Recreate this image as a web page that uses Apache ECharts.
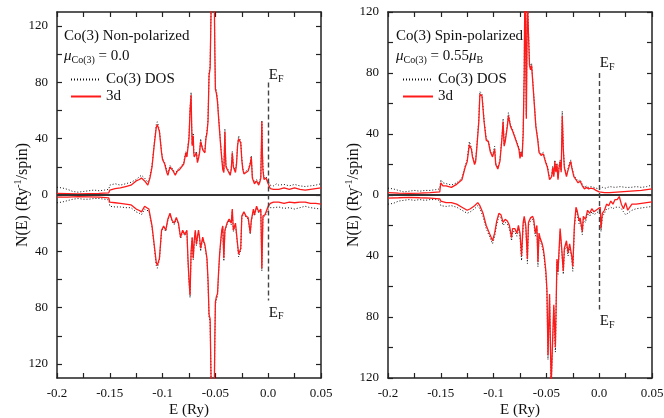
<!DOCTYPE html>
<html>
<head>
    <meta charset="utf-8"/>
    <script src="https://cdn.jsdelivr.net/npm/echarts@6.0.0/dist/echarts.min.js"></script>
    <style>
        html, body { margin: 0; padding: 0; background: #fff; }
    </style>
</head>
<body>
<div id="main" style="width: 664px;height:418px;"></div>
<script type="text/javascript">
    // energy range (Ry) and y limits of the two panels
    var eMin = -0.2, eMax = 0.05, eStep = 0.025;
    var npLimit = 130, spLimit = 120;
    var yTickValues = [-120, -100, -80, -60, -40, -20, 0, 20, 40, 60, 80, 100, 120];
    var yLabelValues = [-120, -80, -40, 0, 40, 80, 120];
    var efTop = 80, efBottom = -75;

    // Non-polarized, spin up: [E, N(E)]
    var npUp3d = [[-0.2,1.2],[-0.19,1.0],[-0.18,0.8],[-0.17,1.0],[-0.16,1.2],[-0.151,1.5],[-0.15,3.5],[-0.145,4.5],[-0.14,5],[-0.135,6],[-0.13,7],[-0.125,10],[-0.122,11],[-0.12,12],[-0.117,10],[-0.114,7],[-0.112,12],[-0.11,20],[-0.108,35],[-0.106,48],[-0.105,50],[-0.103,45],[-0.101,30],[-0.1,25],[-0.098,22],[-0.096,16],[-0.095,14],[-0.093,20],[-0.092,21],[-0.09,17],[-0.088,14],[-0.086,17],[-0.084,18],[-0.082,20],[-0.08,22],[-0.078,30],[-0.077,27],[-0.075,40],[-0.074,60],[-0.073,71],[-0.0725,50],[-0.072,35],[-0.071,42],[-0.0705,30],[-0.07,27],[-0.068,30],[-0.067,23],[-0.066,26],[-0.065,30],[-0.064,38],[-0.063,35],[-0.062,32],[-0.06,30],[-0.059,40],[-0.058,44],[-0.057,52],[-0.056,85],[-0.055,90],[-0.054,135],[-0.052,140],[-0.051,135],[-0.0505,100],[-0.05,75],[-0.049,72],[-0.048,66],[-0.047,55],[-0.046,45],[-0.045,35],[-0.044,26],[-0.043,18],[-0.042,16],[-0.041,45],[-0.0405,30],[-0.04,20],[-0.038,17],[-0.036,14],[-0.035,18],[-0.034,30],[-0.033,20],[-0.032,18],[-0.031,16],[-0.03,22],[-0.029,35],[-0.028,40],[-0.027,39],[-0.026,37],[-0.025,25],[-0.024,18],[-0.023,15],[-0.021,16],[-0.019,17],[-0.018,18],[-0.017,22],[-0.016,27],[-0.015,12],[-0.014,10],[-0.013,8],[-0.011,10],[-0.009,7],[-0.008,9],[-0.007,12],[-0.006,52],[-0.0055,30],[-0.005,18],[-0.004,11],[-0.002,12],[-0.001,10],[0,8],[0.002,4.5],[0.005,4],[0.01,4],[0.015,5],[0.02,4],[0.025,5],[0.03,4],[0.035,3.5],[0.04,4],[0.045,4.5],[0.05,5]];
    var npUpDos = [[-0.2,5.5],[-0.195,5],[-0.19,4],[-0.185,2.5],[-0.18,2],[-0.175,2.5],[-0.17,3],[-0.165,3.5],[-0.16,3],[-0.155,3.5],[-0.151,4],[-0.15,7],[-0.145,8],[-0.14,7],[-0.135,8],[-0.13,9],[-0.125,11],[-0.122,13],[-0.12,14],[-0.117,12],[-0.114,9],[-0.112,13],[-0.11,21],[-0.108,36],[-0.106,50],[-0.105,52],[-0.103,46],[-0.101,31],[-0.1,26],[-0.098,23],[-0.096,17],[-0.095,15],[-0.093,21],[-0.092,22],[-0.09,18],[-0.088,15],[-0.086,18],[-0.084,19],[-0.082,21],[-0.08,23],[-0.078,31],[-0.077,28],[-0.075,42],[-0.074,62],[-0.073,73],[-0.0725,51],[-0.072,36],[-0.071,44],[-0.0705,31],[-0.07,28],[-0.068,31],[-0.067,24],[-0.066,27],[-0.065,31],[-0.064,40],[-0.063,36],[-0.062,33],[-0.06,31],[-0.059,41],[-0.058,45],[-0.057,54],[-0.056,87],[-0.055,92],[-0.054,138],[-0.052,142],[-0.051,138],[-0.0505,102],[-0.05,77],[-0.049,74],[-0.048,68],[-0.047,56],[-0.046,46],[-0.045,36],[-0.044,27],[-0.043,19],[-0.042,17],[-0.041,47],[-0.0405,31],[-0.04,21],[-0.038,18],[-0.036,15],[-0.035,19],[-0.034,31],[-0.033,21],[-0.032,19],[-0.031,17],[-0.03,23],[-0.029,36],[-0.028,42],[-0.027,40],[-0.026,38],[-0.025,26],[-0.024,19],[-0.023,16],[-0.021,17],[-0.019,18],[-0.018,19],[-0.017,23],[-0.016,28],[-0.015,13],[-0.014,11],[-0.013,9],[-0.011,11],[-0.009,8],[-0.008,10],[-0.007,13],[-0.006,53],[-0.0055,31],[-0.005,19],[-0.004,12],[-0.002,13],[-0.001,11],[0,10],[0.002,7],[0.005,6.5],[0.008,8],[0.01,7],[0.015,7.5],[0.02,6.5],[0.025,7.5],[0.03,6.5],[0.035,6],[0.04,6.5],[0.045,7],[0.05,8]];

    // Non-polarized, spin down (magnitudes)
    var npDn3d = [[-0.2,1.5],[-0.19,1.5],[-0.18,1.2],[-0.17,1.3],[-0.16,1.5],[-0.151,2],[-0.15,5],[-0.145,5.5],[-0.14,6],[-0.135,6.5],[-0.13,7],[-0.125,10],[-0.122,11],[-0.12,12],[-0.117,8],[-0.115,9],[-0.113,10],[-0.11,22],[-0.108,35],[-0.106,48],[-0.105,50],[-0.103,45],[-0.101,25],[-0.099,22],[-0.097,25],[-0.095,17],[-0.093,13],[-0.091,18],[-0.089,20],[-0.087,16],[-0.085,20],[-0.083,30],[-0.081,25],[-0.079,28],[-0.077,25],[-0.076,45],[-0.075,60],[-0.074,71],[-0.073,40],[-0.072,30],[-0.071,45],[-0.07,32],[-0.069,25],[-0.068,35],[-0.066,25],[-0.065,30],[-0.064,38],[-0.062,30],[-0.061,33],[-0.06,35],[-0.058,45],[-0.057,60],[-0.056,85],[-0.055,88],[-0.054,135],[-0.052,140],[-0.051,135],[-0.0505,100],[-0.05,76],[-0.049,72],[-0.048,70],[-0.047,55],[-0.046,42],[-0.045,33],[-0.044,25],[-0.043,22],[-0.042,45],[-0.041,25],[-0.039,20],[-0.037,17],[-0.035,20],[-0.034,10],[-0.033,25],[-0.031,20],[-0.029,35],[-0.028,42],[-0.026,38],[-0.025,15],[-0.023,12],[-0.021,15],[-0.019,16],[-0.017,27],[-0.016,18],[-0.014,10],[-0.013,14],[-0.011,8],[-0.009,12],[-0.007,10],[-0.006,52],[-0.005,15],[-0.003,14],[-0.001,10],[0,8],[0.002,6],[0.005,5],[0.01,5],[0.015,6],[0.02,5],[0.025,5.5],[0.03,5],[0.035,5],[0.04,6],[0.045,6],[0.05,6.5]];
    var npDnDos = [[-0.2,5.5],[-0.195,5],[-0.19,4],[-0.185,3],[-0.18,2.5],[-0.175,3],[-0.17,3],[-0.165,2.5],[-0.16,2.5],[-0.155,3],[-0.151,3.5],[-0.15,8],[-0.145,8.5],[-0.14,8.5],[-0.135,9],[-0.13,9],[-0.125,12],[-0.122,13],[-0.12,14],[-0.117,10],[-0.115,11],[-0.113,11],[-0.11,23],[-0.108,36],[-0.106,50],[-0.105,52],[-0.103,46],[-0.101,26],[-0.099,23],[-0.097,26],[-0.095,18],[-0.093,14],[-0.091,19],[-0.089,21],[-0.087,17],[-0.085,21],[-0.083,31],[-0.081,26],[-0.079,29],[-0.077,26],[-0.076,47],[-0.075,62],[-0.074,73],[-0.073,41],[-0.072,31],[-0.071,46],[-0.07,33],[-0.069,26],[-0.068,36],[-0.066,26],[-0.065,31],[-0.064,40],[-0.062,31],[-0.061,34],[-0.06,36],[-0.058,46],[-0.057,62],[-0.056,87],[-0.055,90],[-0.054,138],[-0.052,142],[-0.051,138],[-0.0505,102],[-0.05,78],[-0.049,74],[-0.048,72],[-0.047,56],[-0.046,43],[-0.045,34],[-0.044,26],[-0.043,23],[-0.042,47],[-0.041,26],[-0.039,21],[-0.037,18],[-0.035,21],[-0.034,11],[-0.033,26],[-0.031,21],[-0.029,36],[-0.028,44],[-0.026,39],[-0.025,16],[-0.023,13],[-0.021,16],[-0.019,17],[-0.017,28],[-0.016,19],[-0.014,11],[-0.013,15],[-0.011,9],[-0.009,13],[-0.007,11],[-0.006,54],[-0.005,16],[-0.003,15],[-0.001,12],[0,10],[0.002,9],[0.005,9],[0.01,8.5],[0.015,9.5],[0.02,9],[0.025,10],[0.03,9],[0.035,8],[0.04,9],[0.045,9.5],[0.05,10]];

    // Spin-polarized, spin up
    var spUp3d = [[-0.2,1.5],[-0.19,1.2],[-0.18,1.0],[-0.17,1.2],[-0.16,1.5],[-0.151,2],[-0.15,8],[-0.148,6],[-0.145,6],[-0.14,5],[-0.135,7],[-0.13,10],[-0.127,18],[-0.125,22],[-0.123,33],[-0.121,30],[-0.12,25],[-0.118,20],[-0.117,22],[-0.116,30],[-0.114,48],[-0.113,66],[-0.111,65],[-0.109,48],[-0.107,36],[-0.105,35],[-0.103,28],[-0.101,25],[-0.099,30],[-0.098,20],[-0.096,17],[-0.094,22],[-0.092,38],[-0.091,48],[-0.09,32],[-0.089,35],[-0.087,45],[-0.086,52],[-0.084,45],[-0.082,42],[-0.08,38],[-0.078,34],[-0.077,33],[-0.076,30],[-0.075,24],[-0.074,28],[-0.073,25],[-0.072,40],[-0.071,80],[-0.0705,125],[-0.07,130],[-0.069,50],[-0.068,130],[-0.067,106],[-0.066,85],[-0.065,82],[-0.064,85],[-0.063,75],[-0.061,55],[-0.06,45],[-0.058,35],[-0.057,28],[-0.055,26],[-0.053,27],[-0.051,22],[-0.049,18],[-0.047,10],[-0.045,12],[-0.044,18],[-0.043,12],[-0.042,22],[-0.041,15],[-0.04,20],[-0.039,10],[-0.038,18],[-0.037,22],[-0.036,15],[-0.035,52],[-0.034,30],[-0.033,18],[-0.031,12],[-0.03,15],[-0.028,20],[-0.027,22],[-0.026,18],[-0.024,12],[-0.022,10],[-0.02,8],[-0.018,9],[-0.016,6],[-0.014,4],[-0.012,5],[-0.01,4],[-0.008,4.5],[-0.005,4],[-0.003,3],[0,2],[0.005,1.5],[0.01,1.5],[0.02,2],[0.03,2.5],[0.04,3],[0.045,3.5],[0.05,4]];
    var spUpDos = [[-0.2,4.5],[-0.195,4],[-0.19,3],[-0.185,2],[-0.18,2.5],[-0.175,3],[-0.17,2.5],[-0.165,3],[-0.16,3],[-0.155,3.5],[-0.151,4],[-0.15,10],[-0.148,8],[-0.145,7.5],[-0.14,6.5],[-0.135,8],[-0.13,11],[-0.127,19],[-0.125,23],[-0.123,35],[-0.121,31],[-0.12,26],[-0.118,21],[-0.117,23],[-0.116,31],[-0.114,50],[-0.113,68],[-0.111,66],[-0.109,49],[-0.107,37],[-0.105,36],[-0.103,29],[-0.101,26],[-0.099,32],[-0.098,21],[-0.096,18],[-0.094,23],[-0.092,39],[-0.091,50],[-0.09,33],[-0.089,36],[-0.087,46],[-0.086,54],[-0.084,46],[-0.082,43],[-0.08,39],[-0.078,35],[-0.077,34],[-0.076,31],[-0.075,25],[-0.074,29],[-0.073,26],[-0.072,41],[-0.071,82],[-0.0705,128],[-0.07,132],[-0.069,52],[-0.068,132],[-0.067,108],[-0.066,87],[-0.065,84],[-0.064,86],[-0.063,76],[-0.061,56],[-0.06,46],[-0.058,36],[-0.057,29],[-0.055,27],[-0.053,28],[-0.051,23],[-0.049,19],[-0.047,11],[-0.045,13],[-0.044,19],[-0.043,13],[-0.042,23],[-0.041,16],[-0.04,21],[-0.039,11],[-0.038,19],[-0.037,23],[-0.036,16],[-0.035,55],[-0.034,31],[-0.033,19],[-0.031,13],[-0.03,16],[-0.028,21],[-0.027,23],[-0.026,19],[-0.024,13],[-0.022,11],[-0.02,9],[-0.018,10],[-0.016,7],[-0.014,5],[-0.012,6],[-0.01,5],[-0.008,5.5],[-0.005,5],[-0.003,4.5],[0,4],[0.003,5],[0.006,4.5],[0.01,5.5],[0.015,5],[0.02,5.5],[0.025,5],[0.03,5],[0.035,5.5],[0.04,5],[0.045,5.5],[0.05,6.5]];

    // Spin-polarized, spin down (magnitudes)
    var spDn3d = [[-0.2,2],[-0.19,1.8],[-0.18,1.5],[-0.17,1.8],[-0.16,2],[-0.151,2.5],[-0.15,4],[-0.145,5],[-0.14,5],[-0.135,6],[-0.13,8],[-0.125,10],[-0.122,9],[-0.118,7],[-0.115,5],[-0.113,7],[-0.11,12],[-0.107,20],[-0.104,25],[-0.101,30],[-0.099,25],[-0.097,17],[-0.095,12],[-0.093,13],[-0.091,18],[-0.089,16],[-0.087,17],[-0.085,20],[-0.083,28],[-0.082,22],[-0.08,22],[-0.078,25],[-0.0765,20],[-0.075,25],[-0.0735,40],[-0.072,18],[-0.071,14],[-0.0695,20],[-0.068,42],[-0.067,18],[-0.065,15],[-0.063,14],[-0.062,16],[-0.0605,25],[-0.059,20],[-0.058,44],[-0.057,25],[-0.056,28],[-0.055,30],[-0.054,32],[-0.053,35],[-0.052,40],[-0.0505,50],[-0.0495,62],[-0.0485,105],[-0.047,65],[-0.0455,125],[-0.0445,125],[-0.043,72],[-0.0415,100],[-0.04,42],[-0.039,50],[-0.037,22],[-0.0355,35],[-0.034,50],[-0.033,35],[-0.031,30],[-0.0295,38],[-0.028,32],[-0.026,40],[-0.025,47],[-0.0235,20],[-0.022,8],[-0.021,10],[-0.019,17],[-0.018,15],[-0.016,24],[-0.015,14],[-0.013,16],[-0.011,10],[-0.009,12],[-0.007,9],[-0.005,11],[-0.003,10],[-0.001,9],[0,10],[0.001,8],[0.0017,22],[0.003,12],[0.005,10],[0.007,6],[0.009,7],[0.011,4],[0.013,6],[0.015,3],[0.017,3],[0.019,1],[0.021,6],[0.023,9],[0.025,5],[0.027,10],[0.029,8],[0.031,6],[0.035,6],[0.04,5.5],[0.045,5],[0.05,4.5]];
    var spDnDos = [[-0.2,6],[-0.195,5.5],[-0.19,4],[-0.185,3.5],[-0.18,3],[-0.175,3.5],[-0.17,3],[-0.165,3.5],[-0.16,3],[-0.155,3],[-0.151,3.5],[-0.15,7],[-0.145,7.5],[-0.14,7],[-0.135,8],[-0.13,10],[-0.125,12],[-0.122,11],[-0.118,9],[-0.115,7],[-0.113,9],[-0.11,14],[-0.107,22],[-0.104,27],[-0.101,32],[-0.099,27],[-0.097,19],[-0.095,14],[-0.093,15],[-0.091,20],[-0.089,18],[-0.087,19],[-0.085,22],[-0.083,30],[-0.082,24],[-0.08,24],[-0.078,27],[-0.0765,22],[-0.075,27],[-0.0735,43],[-0.072,20],[-0.071,16],[-0.0695,22],[-0.068,45],[-0.067,20],[-0.065,17],[-0.063,16],[-0.062,18],[-0.0605,27],[-0.059,22],[-0.058,47],[-0.057,27],[-0.056,30],[-0.055,32],[-0.054,34],[-0.053,37],[-0.052,42],[-0.0505,52],[-0.0495,64],[-0.0485,108],[-0.047,67],[-0.0455,128],[-0.0445,128],[-0.043,74],[-0.0415,103],[-0.04,44],[-0.039,52],[-0.037,24],[-0.0355,37],[-0.034,52],[-0.033,37],[-0.031,32],[-0.0295,40],[-0.028,34],[-0.026,42],[-0.025,50],[-0.0235,22],[-0.022,10],[-0.021,12],[-0.019,19],[-0.018,17],[-0.016,26],[-0.015,16],[-0.013,18],[-0.011,12],[-0.009,14],[-0.007,11],[-0.005,13],[-0.003,12],[-0.001,11],[0,12],[0.001,10],[0.0017,24],[0.003,14],[0.005,12],[0.007,9],[0.009,9],[0.011,8],[0.013,9],[0.015,8],[0.017,8],[0.019,8],[0.021,9],[0.023,11],[0.025,13],[0.027,12],[0.029,11],[0.031,10],[0.035,9],[0.04,8.5],[0.045,8],[0.05,7.5]];

    var FONT = 'Liberation Serif';
    var AXIS_COLOR = '#222';

    var myChart = echarts.init(document.getElementById('main'));

    function xLabel(v) {
        var m = Math.round(v * 1000);
        if (m % 50 !== 0) return '';
        if (m === 0) return '0.0';
        return String(m / 1000);
    }

    function makeAxes(gi, limit) {
        var xs = [{
            gridIndex: gi, type: 'value', min: eMin, max: eMax, interval: eStep,
            axisLine: {onZero: false, lineStyle: {color: AXIS_COLOR, width: 1.5}},
            axisTick: {inside: true, length: 5, lineStyle: {color: AXIS_COLOR, width: 1.2}},
            axisLabel: {formatter: xLabel, fontFamily: FONT, fontSize: 13, color: '#111', margin: 9,
                        showMinLabel: true, showMaxLabel: true, hideOverlap: false},
            splitLine: {show: false},
            name: 'E (Ry)', nameLocation: 'middle', nameGap: 25, nameMoveOverlap: false,
            nameTextStyle: {fontFamily: FONT, fontSize: 15, color: '#111'}
        }, {
            gridIndex: gi, type: 'value', position: 'top', min: eMin, max: eMax, interval: eStep,
            axisLine: {onZero: false, lineStyle: {color: AXIS_COLOR, width: 1.5}},
            axisTick: {inside: true, length: 5, lineStyle: {color: AXIS_COLOR, width: 1.2}},
            axisLabel: {show: false}, splitLine: {show: false}
        }];
        var ys = [{
            gridIndex: gi, type: 'value', min: -limit, max: limit,
            axisLine: {onZero: false, lineStyle: {color: AXIS_COLOR, width: 1.5}},
            axisTick: {inside: true, length: 5, customValues: yTickValues, lineStyle: {color: AXIS_COLOR, width: 1.2}},
            axisLabel: {customValues: yLabelValues, formatter: function (v) { return String(Math.abs(v)); },
                        fontFamily: FONT, fontSize: 13, color: '#111', margin: 9},
            splitLine: {show: false},
            name: 'N(E) (Ry{sup|-1}/spin)', nameLocation: 'middle', nameGap: 24, nameRotate: 90,
            nameMoveOverlap: false,
            nameTextStyle: {fontFamily: FONT, fontSize: 16, color: '#111',
                            rich: {sup: {fontFamily: FONT, fontSize: 10, color: '#111', padding: [0, 0, 10, 0]}}}
        }, {
            gridIndex: gi, type: 'value', position: 'right', min: -limit, max: limit,
            axisLine: {onZero: false, lineStyle: {color: AXIS_COLOR, width: 1.5}},
            axisTick: {inside: true, length: 5, customValues: yTickValues, lineStyle: {color: AXIS_COLOR, width: 1.2}},
            axisLabel: {show: false}, splitLine: {show: false}
        }];
        return {x: xs, y: ys};
    }

    var efRich = {
        e: {fontFamily: FONT, fontSize: 15, color: '#111'},
        f: {fontFamily: FONT, fontSize: 10, color: '#111', padding: [8, 0, 0, 0]}
    };

    function curve(name, data, sign, gi, extra) {
        var s = {
            type: 'line', name: name, xAxisIndex: gi * 2, yAxisIndex: gi * 2,
            data: data.map(function (p) { return [p[0], sign * p[1]]; }),
            symbol: 'none', animation: false, clip: true
        };
        if (name === '3d') {
            s.lineStyle = {color: '#ff1a1a', width: 1.3};
            s.itemStyle = {color: '#ff1a1a'};
            s.z = 3;
        } else {
            s.lineStyle = {color: '#111', width: 1, type: [1, 2]};
            s.itemStyle = {color: '#111'};
            s.z = 2;
        }
        if (extra) {
            for (var k in extra) s[k] = extra[k];
        }
        return s;
    }

    function guides(topDist, bottomDist) {
        return {
            markLine: {
                silent: true, symbol: ['none', 'none'], label: {show: false}, animation: false,
                data: [
                    [{coord: [eMin, 0], lineStyle: {color: '#333', width: 2.2, type: 'solid'}},
                     {coord: [eMax, 0]}],
                    [{coord: [0, efTop], lineStyle: {color: '#444', width: 1.4, type: [5, 3]}},
                     {coord: [0, efBottom]}]
                ]
            },
            markPoint: {
                silent: true, symbol: 'circle', symbolSize: 0, animation: false,
                data: [
                    {coord: [0, efTop], label: {show: true, position: 'top', distance: topDist, offset: [8, 0],
                        formatter: '{e|E}{f|F}', rich: efRich}},
                    {coord: [0, efBottom], label: {show: true, position: 'bottom', distance: bottomDist, offset: [8, 0],
                        formatter: '{e|E}{f|F}', rich: efRich}}
                ]
            }
        };
    }

    var a0 = makeAxes(0, npLimit);
    var a1 = makeAxes(1, spLimit);

    var textStyle = {fontFamily: FONT, fontSize: 15, fill: '#111'};
    var muRich = {
        i: {fontFamily: FONT, fontSize: 15, fontStyle: 'italic', fill: '#111'},
        s: {fontFamily: FONT, fontSize: 10, fill: '#111', padding: [8, 0, 0, 0]}
    };
    var legendBase = {
        orient: 'vertical', itemWidth: 30, itemHeight: 12, itemGap: 2, padding: 0,
        data: ['Co(3) DOS', '3d'], itemStyle: {opacity: 0},
        textStyle: {fontFamily: FONT, fontSize: 15, color: '#111'}
    };

    option = {
        backgroundColor: '#fff',
        animation: false,
        grid: [
            {left: 57, top: 12, width: 264, height: 366, outerBoundsMode: 'none', containLabel: false},
            {left: 388, top: 12, width: 264, height: 366, outerBoundsMode: 'none', containLabel: false}
        ],
        xAxis: a0.x.concat(a1.x),
        yAxis: a0.y.concat(a1.y),
        legend: [
            Object.assign({left: 70, top: 72}, legendBase),
            Object.assign({left: 402, top: 72}, legendBase)
        ],
        graphic: [
            {type: 'text', left: 64, top: 29, style: Object.assign({text: 'Co(3) Non-polarized'}, textStyle)},
            {type: 'text', left: 64, top: 49, style: Object.assign({text: '{i|μ}{s|Co(3)} = 0.0', rich: muRich}, textStyle)},
            {type: 'text', left: 396, top: 29, style: Object.assign({text: 'Co(3) Spin-polarized'}, textStyle)},
            {type: 'text', left: 396, top: 49, style: Object.assign({text: '{i|μ}{s|Co(3)} = 0.55{i|μ}{s|B}', rich: muRich}, textStyle)}
        ],
        series: [
            curve('Co(3) DOS', npUpDos, 1, 0),
            curve('Co(3) DOS', npDnDos, -1, 0),
            curve('3d', npUp3d, 1, 0, guides(-2, 3)),
            curve('3d', npDn3d, -1, 0),
            curve('Co(3) DOS', spUpDos, 1, 1),
            curve('Co(3) DOS', spDnDos, -1, 1),
            curve('3d', spUp3d, 1, 1, guides(1, 3)),
            curve('3d', spDn3d, -1, 1)
        ]
    };

    myChart.setOption(option);
</script>
</body>
</html>
